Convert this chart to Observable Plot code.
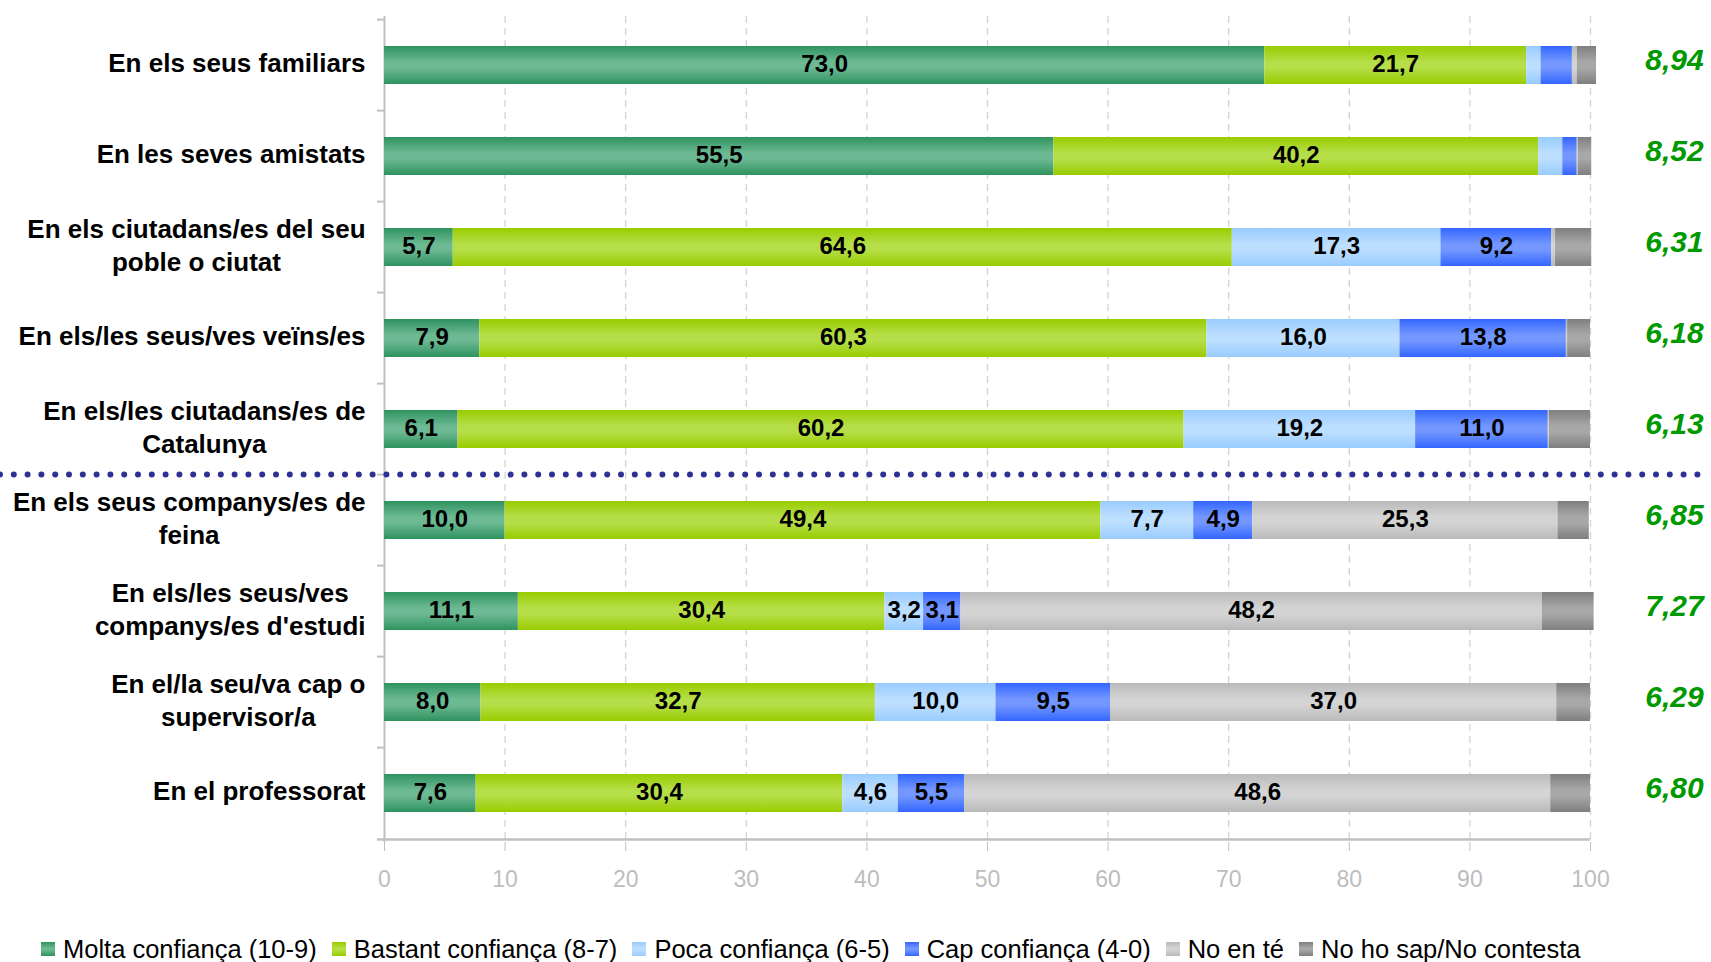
<!DOCTYPE html>
<html>
<head>
<meta charset="utf-8">
<script src="https://cdn.jsdelivr.net/npm/d3@7"></script>
<script src="https://cdn.jsdelivr.net/npm/@observablehq/plot@0.6"></script>
<style>
  html, body { margin: 0; padding: 0; background: #fff; }
  body { width: 1711px; height: 962px; overflow: hidden; font-family: "Liberation Sans", Arial, sans-serif; }
  #legend { display: flex; align-items: center; height: 36px; margin-top: 6px; padding-left: 41px; font-size: 25.5px; color: #000; white-space: nowrap; }
  #legend .item { display: flex; align-items: center; margin-right: 15px; }
  #legend .sw { width: 14px; height: 14px; margin-right: 8px; }
</style>
</head>
<body>
<div id="chart"></div>
<div id="legend"></div>
<script>
// ---- data ----
const categories = [
  "En els seus familiars",
  "En les seves amistats",
  "En els ciutadans/es del seu\npoble o ciutat",
  "En els/les seus/ves veïns/es",
  "En els/les ciutadans/es de\nCatalunya",
  "En els seus companys/es de\nfeina",
  "En els/les seus/ves\ncompanys/es d'estudi",
  "En el/la seu/va cap o\nsupervisor/a",
  "En el professorat"
];
const seriesNames = [
  "Molta confiança (10-9)",
  "Bastant confiança (8-7)",
  "Poca confiança (6-5)",
  "Cap confiança (4-0)",
  "No en té",
  "No ho sap/No contesta"
];
const molta   = [73.0, 55.5, 5.7, 7.9, 6.1, 10.0, 11.1, 8.0, 7.6];
const bastant = [21.7, 40.2, 64.6, 60.3, 60.2, 49.4, 30.4, 32.7, 30.4];
const poca    = [1.2, 2.0, 17.3, 16.0, 19.2, 7.7, 3.2, 10.0, 4.6];
const cap     = [2.6, 1.2, 9.2, 13.8, 11.0, 4.9, 3.1, 9.5, 5.5];
const noEnTe  = [0.4, 0.1, 0.3, 0.1, 0.1, 25.3, 48.2, 37.0, 48.6];
const nsnc    = [1.6, 1.1, 3.0, 1.9, 3.4, 2.6, 4.3, 2.8, 3.3];
const means   = [8.94, 8.52, 6.31, 6.18, 6.13, 6.85, 7.27, 6.29, 6.80];
const xTicks  = [0, 10, 20, 30, 40, 50, 60, 70, 80, 90, 100];
const separatorBefore = categories[5];

// ---- styles ----
const gradColors = [
  ["#2f925f", "#6cb993"],
  ["#99cc00", "#b6de48"],
  ["#99ccff", "#bcdeff"],
  ["#3366ff", "#7397ff"],
  ["#bababa", "#d4d4d4"],
  ["#7f7f7f", "#a8a8a8"]
];
const gradIds = gradColors.map((_, i) => "grad" + i);
const font = "'Liberation Sans', Arial, sans-serif";

const width = 1711, height = 925;
const marginLeft = 384, marginRight = 121, marginTop = 16, marginBottom = 83;
const step = (height - marginTop - marginBottom) / categories.length;
const plotW = width - marginLeft - marginRight;

const seriesValues = [molta, bastant, poca, cap, noEnTe, nsnc];
const rows = categories.flatMap((c, i) =>
  seriesNames.map((s, j) => ({cat: c, series: s, value: seriesValues[j][i]})));
const meanRows = categories.map((c, i) => ({cat: c, mean: means[i]}));

const fmt1 = v => d3.format(".1f")(v).replace(".", ",");
const fmt2 = v => d3.format(".2f")(v).replace(".", ",");

// measure category label widths for centered multi-line blocks
const ctx = document.createElement("canvas").getContext("2d");
ctx.font = "bold 26px " + font;
const labelMarks = categories.map(c => {
  const w = d3.max(c.split("\n"), l => ctx.measureText(l).width);
  return Plot.text([c], {
    y: d => d, text: d => d, frameAnchor: "left",
    textAnchor: "middle", lineAnchor: "middle",
    dx: -(19 + w / 2), dy: -4, fontSize: 26, fontWeight: "bold",
    lineHeight: 1.27, fill: "#000"
  });
});

const chart = Plot.plot({
  width, height, marginLeft, marginRight, marginTop, marginBottom,
  style: {fontFamily: font, background: "#fff"},
  x: {domain: [0, 100], axis: null, label: null},
  y: {domain: categories, axis: null, paddingInner: 0.586, paddingOuter: 0.293},
  color: {type: "ordinal", domain: seriesNames, range: gradIds.map(id => `url(#${id})`)},
  marks: [
    Plot.ruleX(xTicks.filter(d => d > 0), {stroke: "#d3d3d3", strokeWidth: 1.3, strokeDasharray: "7,5"}),
    Plot.ruleY(categories, {dy: -step / 2, insetLeft: -7, insetRight: plotW, stroke: "#c0c0c0", strokeWidth: 2}),
    Plot.ruleY([categories[categories.length - 1]], {dy: step / 2, insetLeft: -7, stroke: "#c0c0c0", strokeWidth: 2.5}),
    Plot.ruleX([0], {stroke: "#c0c0c0", strokeWidth: 2}),
    Plot.barX(rows, Plot.stackX({x: "value", y: "cat", z: "series", fill: "series", order: null, insetLeft: 0, insetRight: 0})),
    Plot.text(rows, Plot.stackX({
      x: "value", y: "cat", z: "series", order: null, dy: -1,
      text: d => (d.value >= 3 && d.series !== seriesNames[5]) ? fmt1(d.value) : "",
      fontSize: 24, fontWeight: "bold", fill: "#000"
    })),
    Plot.axisX(xTicks, {tickSize: 9, tickPadding: 19, fontSize: 23, color: "#bdbdbd", stroke: "#c0c0c0", fill: "#bdbdbd", label: null, tickFormat: d => String(d)}),
    ...labelMarks,
    Plot.text(meanRows, {
      y: "cat", text: d => fmt2(d.mean), frameAnchor: "right", dx: 84, dy: -5,
      textAnchor: "middle", fontSize: 30, fontWeight: "bold", fontStyle: "italic", fill: "#009900"
    }),
    Plot.ruleY([separatorBefore], {
      dy: -step / 2, insetLeft: -marginLeft, insetRight: -marginRight,
      stroke: "#2e3192", strokeWidth: 6, strokeDasharray: "0,13.8", strokeLinecap: "round"
    })
  ]
});

// gradient definitions
const defs = d3.select(chart).insert("defs", ":first-child");
gradColors.forEach(([edge, mid], i) => {
  const g = defs.append("linearGradient").attr("id", gradIds[i])
    .attr("x1", 0).attr("y1", 0).attr("x2", 0).attr("y2", 1);
  g.append("stop").attr("offset", "0%").attr("stop-color", edge);
  g.append("stop").attr("offset", "42%").attr("stop-color", mid);
  g.append("stop").attr("offset", "58%").attr("stop-color", mid);
  g.append("stop").attr("offset", "100%").attr("stop-color", edge);
});
document.getElementById("chart").appendChild(chart);

// legend
const legend = d3.select("#legend");
seriesNames.forEach((s, i) => {
  const item = legend.append("div").attr("class", "item");
  item.append("div").attr("class", "sw")
    .style("background", `linear-gradient(to bottom, ${gradColors[i][0]}, ${gradColors[i][1]} 45%, ${gradColors[i][1]} 55%, ${gradColors[i][0]})`);
  item.append("span").text(s);
});
</script>
</body>
</html>
